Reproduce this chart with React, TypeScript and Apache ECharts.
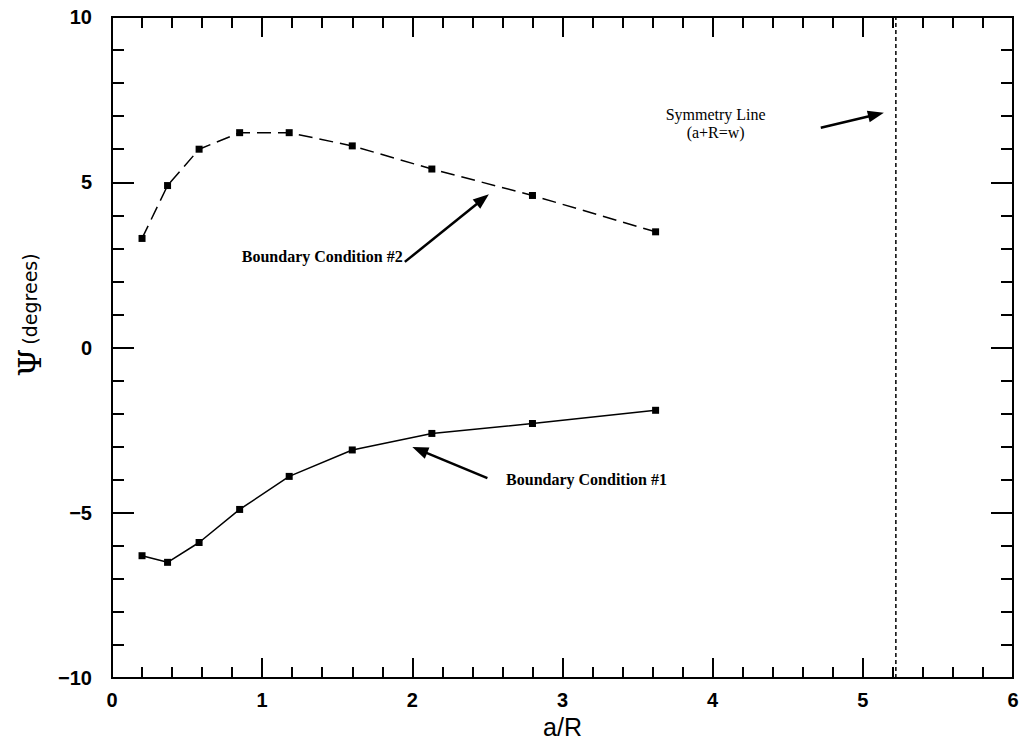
import React, { useEffect, useRef } from "react";
import * as echarts from "echarts";

const aR = [0.2, 0.37, 0.58, 0.85, 1.18, 1.6, 2.13, 2.8, 3.62];
const bc1 = [-6.3, -6.5, -5.9, -4.9, -3.9, -3.1, -2.6, -2.3, -1.9];
const bc2 = [3.3, 4.9, 6.0, 6.5, 6.5, 6.1, 5.4, 4.6, 3.5];
const symmetryX = 5.22;
const xRange = [0, 6];
const yRange = [-10, 10];
const xMajor = 1;
const xMinor = 0.2;
const yMajor = 5;
const yMinor = 1;

const labels = [
  { text: "Boundary Condition #2", at: [1.4, 2.74], size: 16, bold: true },
  { text: "Boundary Condition #1", at: [3.16, -3.98], size: 16, bold: true },
  { text: "Symmetry Line", at: [4.02, 7.05], size: 16, bold: false },
  { text: "(a+R=w)", at: [4.02, 6.5], size: 16, bold: false },
];
const arrows = [
  { from: [1.95, 2.59], to: [2.51, 4.64] },
  { from: [2.5, -3.95], to: [2.0, -3.01] },
  { from: [4.72, 6.65], to: [5.14, 7.1] },
];

const fmt = (v: number) => String(v).replace("-", "\u2212");

export default function App() {
  const ref = useRef<HTMLDivElement>(null);
  useEffect(() => {
    const chart = echarts.init(ref.current!, null, { renderer: "svg" });
    const mk = (range: number[], interval: number, position: string, len: number, label?: any, extra?: any) => ({
      type: "value" as const,
      min: range[0],
      max: range[1],
      interval,
      position,
      axisLine: { show: true, onZero: false, lineStyle: { color: "#000", width: 2 } },
      axisTick: { show: true, inside: true, length: len, lineStyle: { color: "#000", width: 2 } },
      axisLabel: label || { show: false },
      splitLine: { show: false },
      ...(extra || {}),
    });
    const xLabel = { fontSize: 20, color: "#000", fontFamily: "Liberation Sans", fontWeight: "bold", margin: 12 };
    const yLabel = { fontSize: 20, color: "#000", fontFamily: "Liberation Sans", fontWeight: "bold", margin: 20, formatter: fmt };
    chart.setOption({
      animation: false,
      backgroundColor: "#fff",
      grid: { left: 112, right: 10, top: 17, bottom: 68 },
      xAxis: [
        mk(xRange, xMajor, "bottom", 20, xLabel, {
          name: "a/R",
          nameLocation: "middle",
          nameGap: 26,
          nameTextStyle: { fontSize: 25, color: "#000", fontFamily: "Liberation Sans" },
        }),
        mk(xRange, xMinor, "bottom", 11),
        mk(xRange, xMajor, "top", 20),
        mk(xRange, xMinor, "top", 11),
      ],
      yAxis: [
        mk(yRange, yMajor, "left", 22, yLabel),
        mk(yRange, yMinor, "left", 12),
        mk(yRange, yMajor, "right", 22),
        mk(yRange, yMinor, "right", 12),
      ],
      series: [
        {
          type: "line",
          data: aR.map((x, i) => [x, bc1[i]]),
          symbol: "rect",
          symbolSize: 7,
          itemStyle: { color: "#000" },
          lineStyle: { color: "#000", width: 1.5 },
        },
        {
          type: "line",
          data: aR.map((x, i) => [x, bc2[i]]),
          symbol: "rect",
          symbolSize: 7,
          itemStyle: { color: "#000" },
          lineStyle: { color: "#000", width: 1.5, type: [14, 7] },
        },
        {
          type: "line",
          data: yRange.map((y) => [symmetryX, y]),
          symbol: "none",
          lineStyle: { color: "#000", width: 1.5, type: [4, 3] },
        },
      ],
    });

    const px = (p: number[]) => chart.convertToPixel({ xAxisIndex: 0, yAxisIndex: 0 }, p) as number[];
    const graphic: any[] = [
      {
        type: "text",
        x: 30,
        y: 315,
        rotation: Math.PI / 2,
        style: {
          text: "{psi|\u03A8}{deg|(degrees)}",
          align: "center",
          verticalAlign: "middle",
          fill: "#000",
          rich: {
            psi: { fontSize: 32, fontFamily: "DejaVu Serif", fill: "#000", padding: [0, 4, 0, 0] },
            deg: { fontSize: 19, fontFamily: "DejaVu Sans", fill: "#000" },
          },
        },
      },
    ];
    labels.forEach((l) => {
      const [x, y] = px(l.at);
      graphic.push({
        type: "text",
        x,
        y,
        style: {
          text: l.text,
          fontSize: l.size,
          fontFamily: "Liberation Serif",
          fontWeight: l.bold ? "bold" : "normal",
          fill: "#000",
          align: "center",
          verticalAlign: "middle",
        },
      });
    });
    arrows.forEach((a) => {
      const [x1, y1] = px(a.from);
      const [x2, y2] = px(a.to);
      const ang = Math.atan2(y2 - y1, x2 - x1);
      const hl = 16, hw = 6;
      const bx = x2 - hl * Math.cos(ang);
      const by = y2 - hl * Math.sin(ang);
      const nx = -Math.sin(ang), ny = Math.cos(ang);
      graphic.push({
        type: "line",
        shape: { x1, y1, x2: bx + 2 * Math.cos(ang), y2: by + 2 * Math.sin(ang) },
        style: { stroke: "#000", lineWidth: 2.5 },
      });
      graphic.push({
        type: "polygon",
        shape: { points: [[x2, y2], [bx + nx * hw, by + ny * hw], [bx - nx * hw, by - ny * hw]] },
        style: { fill: "#000" },
      });
    });
    chart.setOption({ graphic });
    return () => chart.dispose();
  }, []);
  return <div ref={ref} style={{ position: "absolute", left: 0, top: 0, width: 1023, height: 746 }} />;
}
